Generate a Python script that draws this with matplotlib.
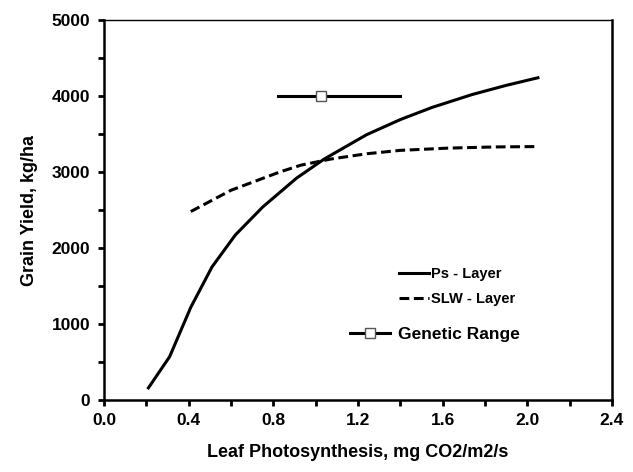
import numpy as np
import matplotlib.pyplot as plt

plt.rcParams['font.family'] = ['Liberation Sans', 'DejaVu Sans']
plt.rcParams['font.weight'] = 'bold'

# Ps - Layer curve
ps_x = [0.21, 0.31, 0.41, 0.51, 0.62, 0.75, 0.91, 1.04, 1.24, 1.40, 1.55, 1.74, 1.90, 2.05]
ps_y = [160, 570, 1220, 1750, 2170, 2540, 2920, 3170, 3490, 3690, 3850, 4020, 4140, 4240]

# SLW - Layer curve
slw_x = [0.41, 0.60, 0.83, 0.93, 1.07, 1.24, 1.40, 1.63, 1.85, 2.05]
slw_y = [2480, 2760, 3000, 3090, 3170, 3240, 3285, 3315, 3330, 3335]

# genetic range bar
gen_center = 1.025
gen_lo = 0.82
gen_hi = 1.40
gen_y = 4000

fig = plt.figure(figsize=(6.33, 4.72), dpi=100)
ax = fig.add_axes([0.1643, 0.1525, 0.8025, 0.8051])

l1, = ax.plot(ps_x, ps_y, color='black', lw=2.2, label='Ps - Layer')
l2, = ax.plot(slw_x, slw_y, color='black', lw=2.2, ls=(0, (3.2, 1.5)), label='SLW - Layer')
ax.plot([gen_lo, gen_hi], [gen_y, gen_y], color='black', lw=2.2)
l3, = ax.plot([gen_center], [gen_y], color='black', lw=2.2, marker='s', ms=7,
              mfc='white', mec='#555555', mew=1.0, label='Genetic Range')

ax.set_xlim(0, 2.4)
ax.set_ylim(0, 5000)
ax.set_xticks(np.arange(0, 2.41, 0.4))
ax.set_xticks(np.arange(0, 2.41, 0.2), minor=True)
ax.set_yticks(np.arange(0, 5001, 1000))
ax.set_yticks(np.arange(0, 5001, 500), minor=True)
ax.xaxis.set_major_formatter(plt.FormatStrFormatter('%.1f'))
ax.tick_params(which='both', direction='out', length=4, width=2, labelsize=12.5)
ax.tick_params(axis='x', pad=5)
ax.tick_params(axis='y', pad=6)

for s in ['left', 'bottom', 'right']:
    ax.spines[s].set_linewidth(1.8)
ax.spines['top'].set_linewidth(1.0)

ax.set_xlabel('Leaf Photosynthesis, mg CO2/m2/s', fontsize=13, fontweight='bold', labelpad=12)
ax.set_ylabel('Grain Yield, kg/ha', fontsize=13, fontweight='bold', labelpad=10)

leg1 = ax.legend(handles=[l1, l2], loc='upper left', bbox_to_anchor=(0.57, 0.365),
                 frameon=False, fontsize=10.5, handlelength=2.0, handletextpad=0.15,
                 labelspacing=0.75, borderaxespad=0)
ax.add_artist(leg1)
ax.legend(handles=[l3], loc='upper left', bbox_to_anchor=(0.47, 0.21),
          frameon=False, fontsize=12.5, handlelength=2.3, handletextpad=0.5,
          borderaxespad=0)

fig.savefig('out.png', dpi=100)
